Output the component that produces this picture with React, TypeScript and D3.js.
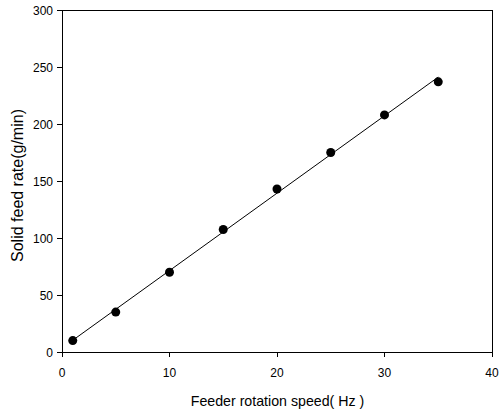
import React from "react";
import * as d3 from "d3";

const speeds = [1, 5, 10, 15, 20, 25, 30, 35];
const feedRates = [10, 35, 70, 107.5, 143, 175, 208, 237];
const xTicks = [0, 10, 20, 30, 40];
const yTicks = [0, 50, 100, 150, 200, 250, 300];
const xTitle = "Feeder rotation speed( Hz )";
const yTitle = "Solid feed rate(g/min)";

export default function App() {
  const W = 500, H = 414;
  const left = 62, right = 492, top = 10, bottom = 352;
  const x = d3.scaleLinear().domain([0, 40]).range([left, right]);
  const y = d3.scaleLinear().domain([0, 300]).range([bottom, top]);

  const mx = d3.mean(speeds)!;
  const my = d3.mean(feedRates)!;
  let sxy = 0, sxx = 0;
  speeds.forEach((v, i) => {
    sxy += (v - mx) * (feedRates[i] - my);
    sxx += (v - mx) * (v - mx);
  });
  const slope = sxy / sxx;
  const icpt = my - slope * mx;
  const x0 = d3.min(speeds)!, x1 = d3.max(speeds)!;
  const line = d3.line<number>().x((d) => x(d)).y((d) => y(icpt + slope * d));

  const font = "'Liberation Sans', Arial, sans-serif";
  return (
    <svg width={W} height={H} style={{ position: "absolute", left: 0, top: 0 }} fontFamily={font}>
      <rect x={0} y={0} width={W} height={H} fill="#fff" />
      <rect x={left} y={top} width={right - left} height={bottom - top} fill="none" stroke="#000" strokeWidth={1} shapeRendering="crispEdges" />
      {xTicks.map((t) => (
        <g key={"x" + t}>
          <line x1={x(t)} x2={x(t)} y1={bottom} y2={bottom + 5} stroke="#000" shapeRendering="crispEdges" />
          <text x={x(t)} y={377} textAnchor="middle" fontSize={12}>{t}</text>
        </g>
      ))}
      {yTicks.map((t) => (
        <g key={"y" + t}>
          <line x1={left - 5} x2={left} y1={y(t)} y2={y(t)} stroke="#000" shapeRendering="crispEdges" />
          <text x={53} y={y(t) + 4.5} textAnchor="end" fontSize={12}>{t}</text>
        </g>
      ))}
      <path d={line([x0, x1]) || ""} stroke="#000" strokeWidth={1} fill="none" />
      {speeds.map((s, i) => (
        <circle key={i} cx={x(s)} cy={y(feedRates[i])} r={4.5} fill="#000" />
      ))}
      <text x={277.5} y={406} textAnchor="middle" fontSize={14.2}>{xTitle}</text>
      <text transform={`translate(23,185.5) rotate(-90)`} textAnchor="middle" fontSize={16}>{yTitle}</text>
    </svg>
  );
}
